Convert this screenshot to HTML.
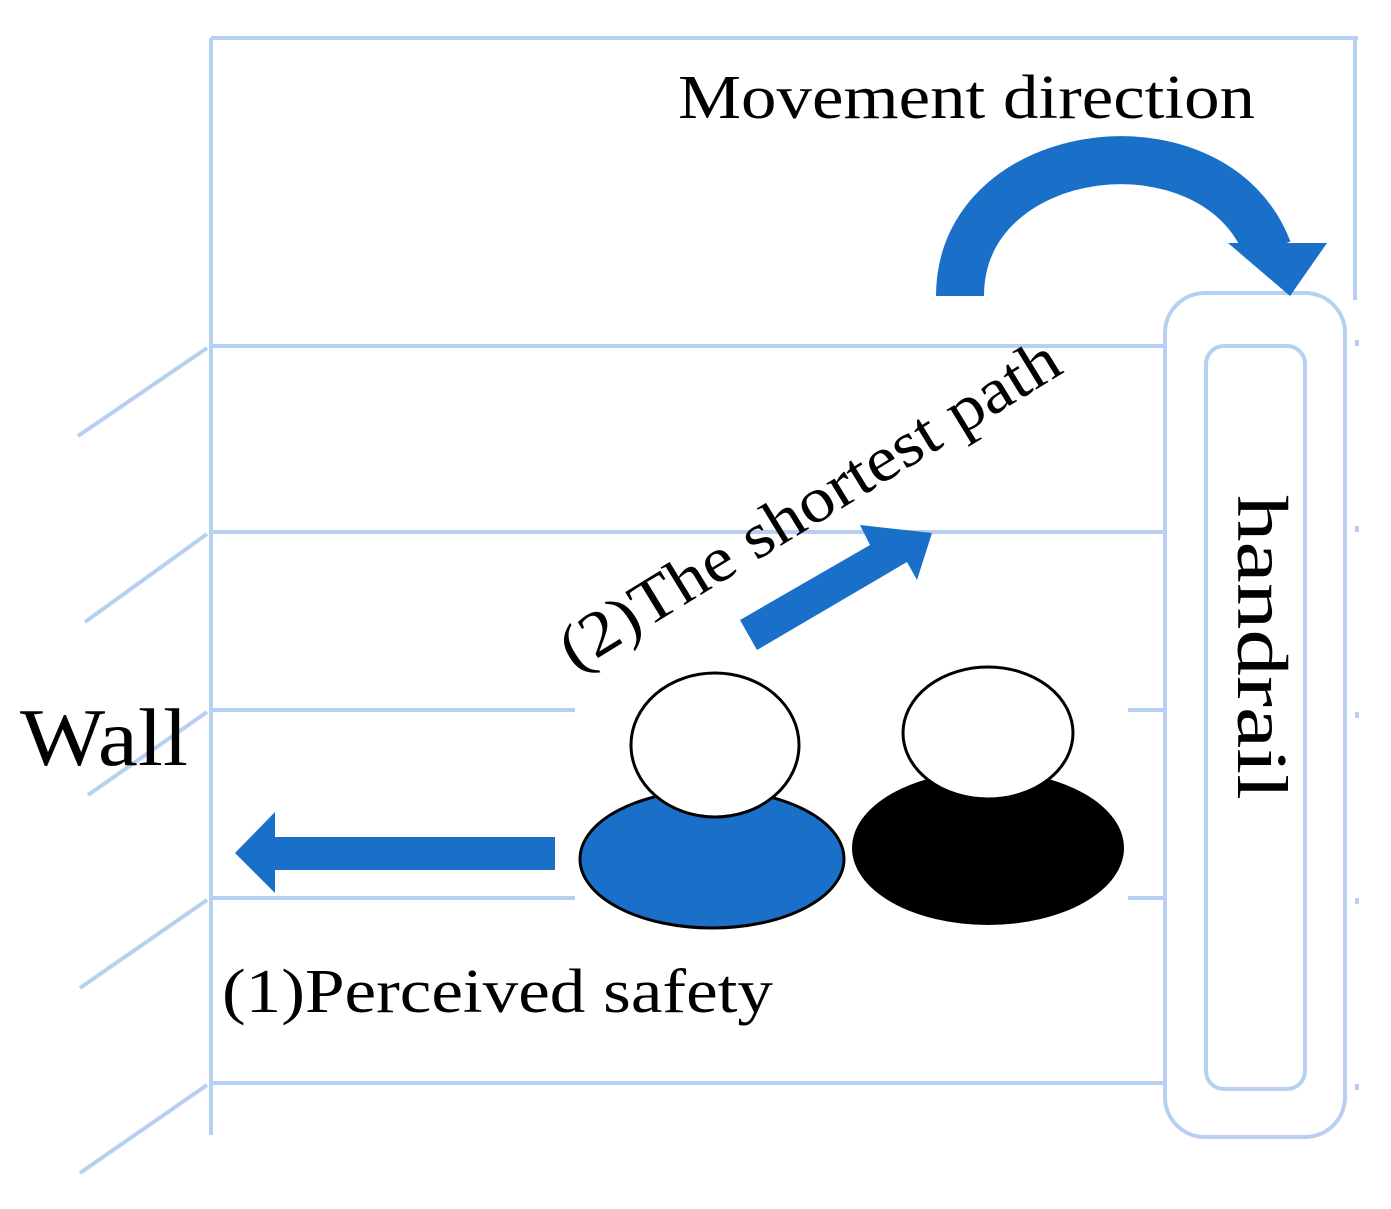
<!DOCTYPE html>
<html><head><meta charset="utf-8"><style>html,body{margin:0;padding:0;background:#fff}svg{display:block}</style></head>
<body>
<svg width="1391" height="1209" viewBox="0 0 1391 1209" xmlns="http://www.w3.org/2000/svg">
<g stroke="#b7cff0" stroke-width="4" fill="none">
<line x1="211" y1="38" x2="1358" y2="38"/>
<line x1="211" y1="38" x2="211" y2="1135"/>
<line x1="1355" y1="38" x2="1355" y2="300"/>
<line x1="1357" y1="300" x2="1357" y2="1100" stroke-dasharray="6 180" stroke-dashoffset="-40"/>
<line x1="211" y1="346" x2="1165" y2="346"/>
<line x1="211" y1="532" x2="1165" y2="532"/>
<line x1="211" y1="710" x2="575" y2="710"/>
<line x1="1128" y1="710" x2="1165" y2="710"/>
<line x1="211" y1="898" x2="575" y2="898"/>
<line x1="1128" y1="898" x2="1165" y2="898"/>
<line x1="211" y1="1083" x2="1165" y2="1083"/>
<line x1="207" y1="348" x2="78" y2="436"/>
<line x1="207" y1="534" x2="85" y2="622"/>
<line x1="207" y1="712" x2="88" y2="795"/>
<line x1="207" y1="900" x2="80" y2="988"/>
<line x1="207" y1="1085" x2="80" y2="1173"/>
<rect x="1165" y="293" width="180" height="844" rx="40"/>
<rect x="1206" y="346" width="99" height="743" rx="18"/>
</g>
<!-- curved arrow -->
<path d="M960 296 C960 140 1215 110 1268 250" stroke="#1a70c8" stroke-width="48" fill="none"/>
<polygon points="1228,243 1327,243 1290,296" fill="#1a70c8"/>
<!-- shortest path arrow -->
<polygon points="740,620 870,545 860,525 932,533 917,580 907,562 757,650" fill="#1a70c8"/>
<!-- left arrow -->
<rect x="272" y="837" width="283" height="33" fill="#1a70c8"/>
<polygon points="235,853 275,812 275,893" fill="#1a70c8"/>
<!-- people -->
<ellipse cx="712" cy="859" rx="132" ry="69" fill="#1a70c8" stroke="#000" stroke-width="3"/>
<ellipse cx="715" cy="745" rx="84" ry="72" fill="#fff" stroke="#000" stroke-width="3"/>
<ellipse cx="988" cy="848" rx="136" ry="77" fill="#000"/>
<ellipse cx="988" cy="733" rx="85" ry="66" fill="#fff" stroke="#000" stroke-width="3"/>
<g font-family="Liberation Serif, serif" fill="#000">
<text x="678" y="118" font-size="62" textLength="577" lengthAdjust="spacingAndGlyphs">Movement direction</text>
<text x="20" y="765" font-size="82" textLength="168" lengthAdjust="spacingAndGlyphs">Wall</text>
<text x="222" y="1012" font-size="62" textLength="551" lengthAdjust="spacingAndGlyphs">(1)Perceived safety</text>
<text transform="translate(575,672) rotate(-31.5)" font-size="64" textLength="575" lengthAdjust="spacingAndGlyphs">(2)The shortest path</text>
<text transform="translate(1238,495) rotate(90)" font-size="72" textLength="305" lengthAdjust="spacingAndGlyphs">handrail</text>
</g>
</svg>
</body></html>
